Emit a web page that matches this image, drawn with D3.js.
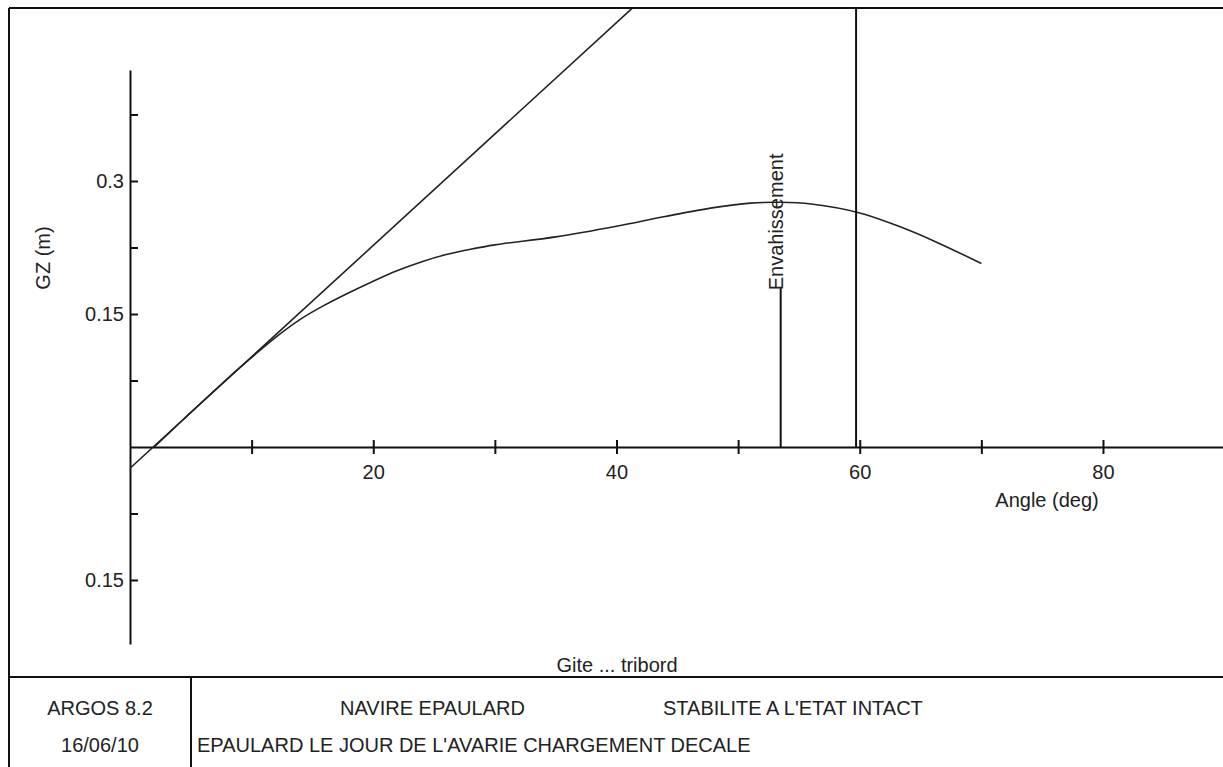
<!DOCTYPE html>
<html>
<head>
<meta charset="utf-8">
<script src="https://cdn.jsdelivr.net/npm/d3@7"></script>
<style>
html,body{margin:0;padding:0;background:#fff;}
svg{display:block;}
text{font-family:"Liberation Sans",Arial,sans-serif;fill:#222;}
</style>
</head>
<body>
<svg id="chart" width="1223" height="767"></svg>
<script>
// ---- data ----
const gzAngles = [2, 5, 8, 10, 12, 14, 16, 18, 20, 22, 24, 26, 28, 30, 35, 40, 44, 48, 51, 53.5, 56, 60, 63, 66, 70];
const gzValues = [0, 0.039, 0.077, 0.101, 0.124, 0.144, 0.160, 0.174, 0.187, 0.199, 0.209, 0.217, 0.223, 0.228, 0.237, 0.249, 0.260, 0.270, 0.275, 0.276, 0.274, 0.264, 0.250, 0.233, 0.207];
const tangentAngles = [0, 41.3];
const tangentValues = [-0.024, 0.495];
const floodAngle = 53.5;          // Envahissement
const floodTop = 0.179;
const limitAngle = 59.7;
const limitTop = 0.495;
const xTickValues = [10, 20, 30, 40, 50, 60, 70, 80];
const xTickLabels = ["", "20", "", "40", "", "60", "", "80"];
const yTickValues = [-0.15, -0.075, 0.075, 0.15, 0.225, 0.3, 0.375];
const yTickLabels = ["0.15", "", "", "0.15", "", "0.3", ""];
const yLabel = "GZ (m)";
const xLabel = "Angle (deg)";
const sideLabel = "Gite ... tribord";
const floodLabel = "Envahissement";
const footerLeft = ["ARGOS 8.2", "16/06/10"];
const footerTitle1 = "NAVIRE EPAULARD";
const footerTitle2 = "STABILITE A L'ETAT INTACT";
const footerSub = "EPAULARD LE JOUR DE L'AVARIE CHARGEMENT DECALE";

// ---- layout ----
const svg = d3.select("#chart");
const W = 1223, H = 767;
const frameL = 9, frameT = 8, footY = 677, footDiv = 191;

const x = d3.scaleLinear().domain([0, 90]).range([130, 1224.6]);
const y = d3.scaleLinear().domain([-0.2222, 0.4252]).range([644, 70]);

// frame
const frame = svg.append("g").attr("stroke", "#111").attr("stroke-width", 2).attr("fill", "none");
frame.append("line").attr("x1", frameL).attr("y1", frameT).attr("x2", W).attr("y2", frameT);
frame.append("line").attr("x1", frameL).attr("y1", frameT).attr("x2", frameL).attr("y2", H);
frame.append("line").attr("x1", frameL).attr("y1", footY).attr("x2", W).attr("y2", footY);
frame.append("line").attr("x1", footDiv).attr("y1", footY).attr("x2", footDiv).attr("y2", H);

// clip for plot marks
svg.append("clipPath").attr("id", "clip").append("rect")
  .attr("x", x(0)).attr("y", frameT).attr("width", W - x(0)).attr("height", footY - frameT);

// y axis
const yAxis = d3.axisLeft(y).tickValues(yTickValues).tickSizeInner(-8).tickSizeOuter(0).tickPadding(6)
  .tickFormat((d, i) => yTickLabels[i]);
const gy = svg.append("g").attr("transform", `translate(${x(0)},0)`).call(yAxis);
gy.select(".domain").attr("stroke", "#111").attr("stroke-width", 2);
gy.selectAll(".tick line").attr("stroke", "#111").attr("stroke-width", 2);
gy.selectAll(".tick text").attr("font-size", 20).attr("font-family", "Liberation Sans, Arial, sans-serif").attr("fill", "#222");

// x axis
const xAxis = d3.axisBottom(x).tickValues(xTickValues).tickSizeInner(7).tickSizeOuter(0).tickPadding(11)
  .tickFormat((d, i) => xTickLabels[i]);
const gx = svg.append("g").attr("transform", `translate(0,${y(0)})`).call(xAxis);
gx.select(".domain").attr("stroke", "#111").attr("stroke-width", 2);
gx.selectAll(".tick line").attr("stroke", "#111").attr("stroke-width", 2).attr("y1", -7);
gx.selectAll(".tick text").attr("font-size", 20).attr("font-family", "Liberation Sans, Arial, sans-serif").attr("fill", "#222");

const plot = svg.append("g").attr("clip-path", "url(#clip)");

// tangent line
const tangentData = tangentAngles.map((a, i) => [a, tangentValues[i]]);
plot.append("path").datum(tangentData)
  .attr("d", d3.line().x(d => x(d[0])).y(d => y(d[1])))
  .attr("fill", "none").attr("stroke", "#222").attr("stroke-width", 1.6);

// GZ curve
const gzData = gzAngles.map((a, i) => [a, gzValues[i]]);
plot.append("path").datum(gzData)
  .attr("d", d3.line().curve(d3.curveCatmullRom.alpha(0.5)).x(d => x(d[0])).y(d => y(d[1])))
  .attr("fill", "none").attr("stroke", "#222").attr("stroke-width", 1.6);

// vertical lines
plot.append("line").attr("x1", x(floodAngle)).attr("x2", x(floodAngle)).attr("y1", y(0)).attr("y2", y(floodTop))
  .attr("stroke", "#111").attr("stroke-width", 2);
plot.append("line").attr("x1", x(limitAngle)).attr("x2", x(limitAngle)).attr("y1", y(0)).attr("y2", y(limitTop))
  .attr("stroke", "#111").attr("stroke-width", 2);

// flood label
svg.append("text")
  .attr("transform", `translate(${x(floodAngle) + 2},${y(floodTop) + 2}) rotate(-90)`)
  .attr("font-size", 20).attr("text-anchor", "start")
  .text(floodLabel);

// axis labels
svg.append("text")
  .attr("transform", `translate(50,258) rotate(-90)`)
  .attr("font-size", 20).attr("text-anchor", "middle")
  .text(yLabel);
svg.append("text").attr("x", 1047).attr("y", 507).attr("font-size", 20).attr("text-anchor", "middle").text(xLabel);
svg.append("text").attr("x", 617).attr("y", 672).attr("font-size", 20).attr("text-anchor", "middle").text(sideLabel);

// footer
svg.append("text").attr("x", 100).attr("y", 715).attr("font-size", 20).attr("text-anchor", "middle").text(footerLeft[0]);
svg.append("text").attr("x", 100).attr("y", 752).attr("font-size", 20).attr("text-anchor", "middle").text(footerLeft[1]);
svg.append("text").attr("x", 340).attr("y", 715).attr("font-size", 20).text(footerTitle1);
svg.append("text").attr("x", 663).attr("y", 715).attr("font-size", 20).text(footerTitle2);
svg.append("text").attr("x", 197).attr("y", 752).attr("font-size", 20).text(footerSub);
</script>
</body>
</html>
